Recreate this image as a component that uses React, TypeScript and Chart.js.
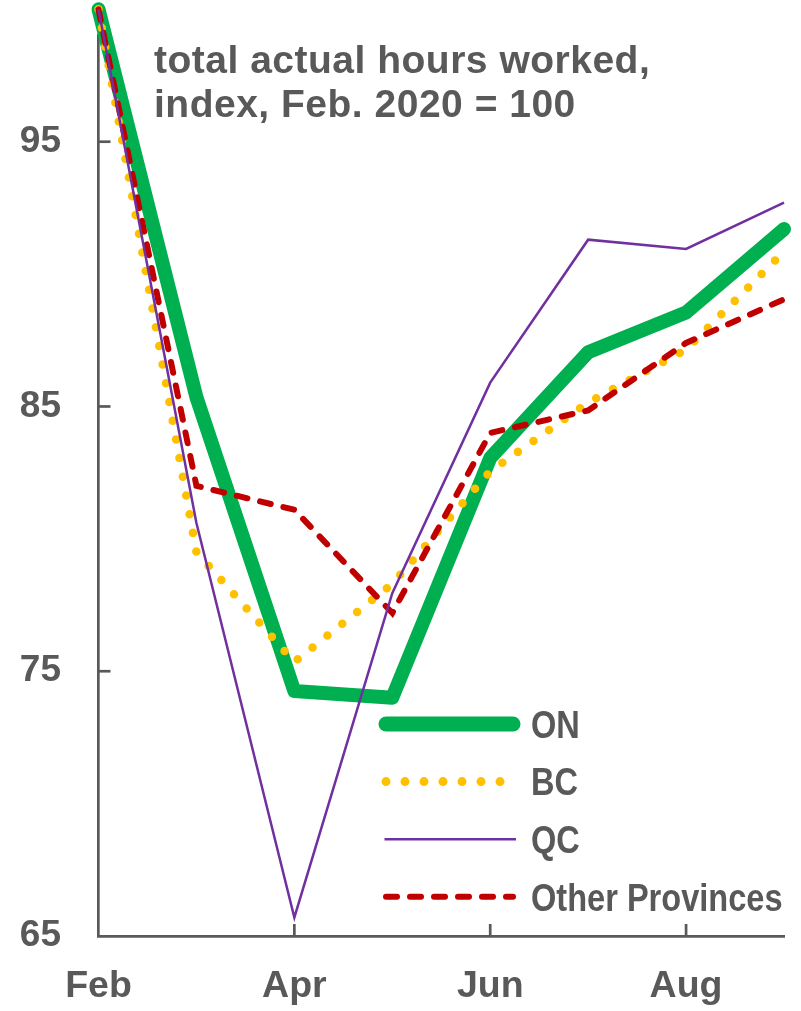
import React, { useEffect, useRef } from "react";
import { Chart, registerables } from "chart.js";

Chart.register(...registerables);

// ---- data ----
const months = ["Feb", "Mar", "Apr", "May", "Jun", "Jul", "Aug", "Sep"];
const xTickLabels = ["Feb", "", "Apr", "", "Jun", "", "Aug", ""];
const onValues = [100, 85.35, 74.25, 74.0, 83.05, 87.05, 88.55, 91.7];
const bcValues = [100, 79.5, 75.35, 78.3, 82.55, 85.15, 87.15, 90.85];
const qcValues = [100, 80.6, 65.7, 77.95, 85.9, 91.3, 90.95, 92.7];
const otherValues = [100, 82.0, 81.1, 77.2, 84.0, 84.85, 87.4, 89.05];
const yTicks = [65, 75, 85, 95];
const seriesNames = ["ON", "BC", "QC", "Other Provinces"];
const titleLines = ["total actual hours worked,", "index, Feb. 2020 = 100"];

const GRAY = "#595959";
const FONT = "'Liberation Sans', Arial, Helvetica, sans-serif";

const overlayPlugin = {
  id: "overlay",
  beforeDatasetsDraw(chart: any) {
    const ctx = chart.ctx;
    const area = chart.chartArea;
    const xs = chart.scales.x;
    const ys = chart.scales.y;
    ctx.save();
    ctx.strokeStyle = GRAY;
    ctx.lineWidth = 2.7;
    // inward y ticks
    yTicks.forEach((v) => {
      if (v === ys.min) return;
      const py = ys.getPixelForValue(v);
      ctx.beginPath();
      ctx.moveTo(area.left, py);
      ctx.lineTo(area.left + 12, py);
      ctx.stroke();
    });
    // inward x ticks
    xTickLabels.forEach((lab, i) => {
      if (!lab || i === 0) return;
      const px = xs.getPixelForValue(i);
      ctx.beginPath();
      ctx.moveTo(px, area.bottom);
      ctx.lineTo(px, area.bottom - 12);
      ctx.stroke();
    });
    // title
    ctx.fillStyle = GRAY;
    ctx.font = `bold 39px ${FONT}`;
    (ctx as any).letterSpacing = "0.5px";
    ctx.textAlign = "left";
    ctx.textBaseline = "alphabetic";
    ctx.fillText(titleLines[0], area.left + 55.5, 73.3);
    ctx.fillText(titleLines[1], area.left + 55.5, 117);
    ctx.restore();
  },
  afterDatasetsDraw(chart: any) {
    const ctx = chart.ctx;
    const area = chart.chartArea;
    const x0 = area.left + 287.5;
    const x1 = area.left + 414.5;
    const rowY0 = 724;
    const step = 57.6;
    const order = [0, 1, 2, 3];
    order.forEach((di, r) => {
      const ds = chart.data.datasets[di];
      const y = rowY0 + r * step;
      ctx.save();
      ctx.strokeStyle = ds.borderColor;
      ctx.lineWidth = di === 0 ? 15 : di === 1 ? 9 : ds.borderWidth;
      ctx.lineCap = ds.borderCapStyle || "butt";
      ctx.setLineDash(ds.borderDash || []);
      ctx.beginPath();
      ctx.moveTo(di === 2 ? x0 - 1.5 : x0, y);
      ctx.lineTo(di === 2 ? x1 + 3 : x1, y);
      ctx.stroke();
      ctx.restore();

      ctx.save();
      ctx.fillStyle = GRAY;
      ctx.font = `bold 39px ${FONT}`;
      ctx.textBaseline = "alphabetic";
      ctx.textAlign = "left";
      ctx.translate(area.left + 432.5, y + 13.8);
      ctx.scale(0.835, 1);
      ctx.fillText(seriesNames[di], 0, 0);
      ctx.restore();
    });
  },
};

export default function App() {
  const canvasRef = useRef<HTMLCanvasElement | null>(null);

  useEffect(() => {
    if (!canvasRef.current) return;
    const chart = new Chart(canvasRef.current, {
      type: "line",
      data: {
        labels: months,
        datasets: [
          {
            label: seriesNames[0],
            data: onValues,
            borderColor: "#00B050",
            backgroundColor: "#00B050",
            borderWidth: 14,
            borderJoinStyle: "round",
            borderCapStyle: "round",
            pointRadius: 0,
            tension: 0,
            clip: false,
            order: 4,
          } as any,
          {
            label: seriesNames[1],
            data: bcValues,
            borderColor: "#FFC000",
            backgroundColor: "#FFC000",
            borderWidth: 8.5,
            borderDash: [0, 19],
            borderCapStyle: "round",
            pointRadius: 0,
            tension: 0,
            clip: false,
            order: 3,
          } as any,
          {
            label: seriesNames[2],
            data: qcValues,
            borderColor: "#7030A0",
            backgroundColor: "#7030A0",
            borderWidth: 2.5,
            pointRadius: 0,
            tension: 0,
            clip: false,
            order: 1,
          } as any,
          {
            label: seriesNames[3],
            data: otherValues,
            borderColor: "#C00000",
            backgroundColor: "#C00000",
            borderWidth: 6,
            borderDash: [11, 13],
            borderCapStyle: "round",
            pointRadius: 0,
            tension: 0,
            clip: false,
            order: 2,
          } as any,
        ],
      },
      options: {
        responsive: false,
        animation: false,
        devicePixelRatio: 1,
        layout: { padding: { top: 35.8, right: 17, left: 0, bottom: 0 } },
        plugins: {
          legend: { display: false },
          tooltip: { enabled: false },
          title: { display: false },
        },
        scales: {
          x: {
            type: "category",
            offset: false,
            grid: { display: false, drawTicks: false },
            border: { display: true, color: GRAY, width: 2.7 },
            ticks: {
              autoSkip: false,
              maxRotation: 0,
              minRotation: 0,
              padding: 28.5,
              color: GRAY,
              font: { family: FONT, size: 37.5, weight: "bold" },
              callback: (_v: any, i: number) => xTickLabels[i],
            },
            afterFit: (scale: any) => {
              scale.height = 75;
              scale.paddingLeft = 0;
              scale.paddingRight = 0;
              scale.paddingTop = 0;
              scale.paddingBottom = 0;
            },
          },
          y: {
            type: "linear",
            min: 65,
            max: 99,
            grid: { display: false, drawTicks: false },
            border: { display: true, color: GRAY, width: 2.7 },
            ticks: {
              padding: 37.5,
              color: GRAY,
              font: { family: FONT, size: 37, weight: "bold" },
            },
            afterBuildTicks: (scale: any) => {
              scale.ticks = yTicks.map((v) => ({ value: v }));
            },
            afterFit: (scale: any) => {
              scale.width = 98.5;
              scale.paddingLeft = 0;
              scale.paddingRight = 0;
              scale.paddingTop = 0;
              scale.paddingBottom = 0;
            },
          },
        },
      } as any,
      plugins: [overlayPlugin],
    });
    return () => chart.destroy();
  }, []);

  return (
    <div style={{ position: "absolute", left: 0, top: 0, width: 801, height: 1011, background: "#fff" }}>
      <canvas ref={canvasRef} width={801} height={1011} />
    </div>
  );
}
